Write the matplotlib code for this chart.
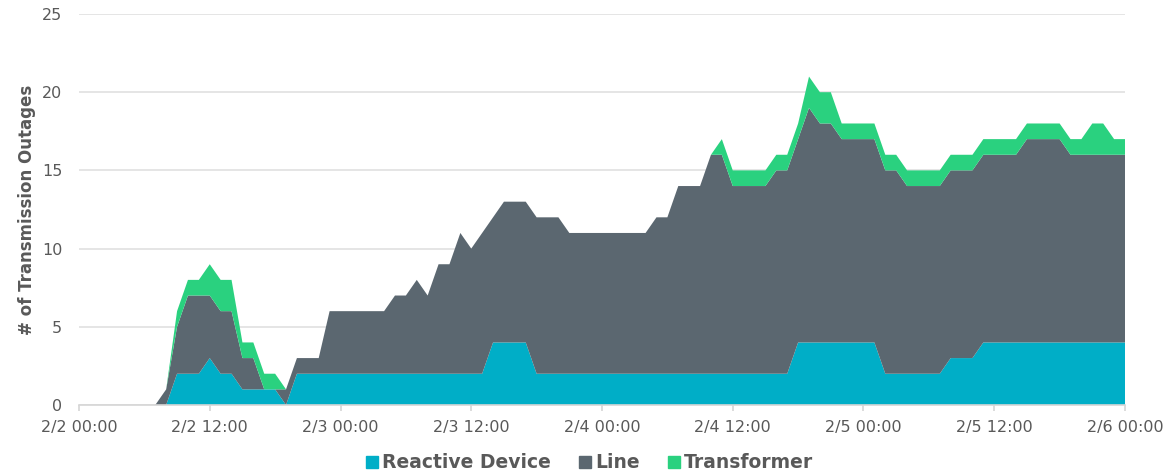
import matplotlib.pyplot as plt
from matplotlib.lines import Line2D

# hourly values, starting 2/2 07:00 (hours counted from 2/2 00:00)
hours = list(range(7, 97))

reactive_device = [
    0, 0, 2, 2, 2, 3, 2, 2, 1, 1, 1, 1, 0,                      # 07-19
    2, 2, 2, 2, 2, 2, 2, 2, 2, 2, 2, 2, 2, 2, 2, 2, 2, 2,       # 20-37
    4, 4, 4, 4,                                                 # 38-41
    2, 2, 2, 2, 2, 2, 2, 2, 2, 2, 2, 2,                         # 42-53
    2, 2, 2, 2, 2, 2, 2, 2, 2, 2, 2, 2,                         # 54-65
    4, 4, 4, 4, 4, 4, 4, 4,                                     # 66-73
    2, 2, 2, 2, 2, 2,                                           # 74-79
    3, 3, 3,                                                    # 80-82
    4, 4, 4, 4, 4, 4, 4, 4, 4, 4, 4, 4, 4, 4,                   # 83-96
]
line = [
    0, 1, 3, 5, 5, 4, 4, 4, 2, 2, 0, 0, 1,                      # 07-19
    1, 1, 1, 4, 4, 4, 4, 4, 4, 5, 5, 6, 5, 7, 7, 9, 8, 9,       # 20-37
    8, 9, 9, 9,                                                 # 38-41
    10, 10, 10, 9, 9, 9, 9, 9, 9, 9, 9, 10,                     # 42-53
    10, 12, 12, 12, 14, 14, 12, 12, 12, 12, 13, 13,             # 54-65
    13, 15, 14, 14, 13, 13, 13, 13,                             # 66-73
    13, 13, 12, 12, 12, 12,                                     # 74-79
    12, 12, 12,                                                 # 80-82
    12, 12, 12, 12, 13, 13, 13, 13, 12, 12, 12, 12, 12, 12,     # 83-96
]
transformer = [
    0, 0, 1, 1, 1, 2, 2, 2, 1, 1, 1, 1, 0,                      # 07-19
    0, 0, 0, 0, 0, 0, 0, 0, 0, 0, 0, 0, 0, 0, 0, 0, 0, 0,       # 20-37
    0, 0, 0, 0,                                                 # 38-41
    0, 0, 0, 0, 0, 0, 0, 0, 0, 0, 0, 0,                         # 42-53
    0, 0, 0, 0, 0, 1, 1, 1, 1, 1, 1, 1,                         # 54-65
    1, 2, 2, 2, 1, 1, 1, 1,                                     # 66-73
    1, 1, 1, 1, 1, 1,                                           # 74-79
    1, 1, 1,                                                    # 80-82
    1, 1, 1, 1, 1, 1, 1, 1, 1, 1, 2, 2, 1, 1,                   # 83-96
]

series_names = ["Reactive Device", "Line", "Transformer"]
colors = ["#00AEC7", "#5B6770", "#2AD17F"]

tick_hours = [0, 12, 24, 36, 48, 60, 72, 84, 96]
tick_labels = ["2/2 00:00", "2/2 12:00", "2/3 00:00", "2/3 12:00", "2/4 00:00",
               "2/4 12:00", "2/5 00:00", "2/5 12:00", "2/6 00:00"]

text_color = "#595959"
plt.rcParams["font.family"] = ["DejaVu Sans"]

fig = plt.figure(figsize=(11.76, 4.74), dpi=100)
ax = fig.add_axes([79 / 1176, 69 / 474, 1046 / 1176, 391 / 474])

ax.stackplot(hours, reactive_device, line, transformer, colors=colors,
             linewidth=0, zorder=2)

ax.set_xlim(0, 96)
ax.set_ylim(0, 25)
ax.set_yticks([0, 5, 10, 15, 20, 25])
ax.set_xticks(tick_hours)
ax.set_xticklabels(tick_labels)

ax.grid(axis="y", color="#e0e0e0", linewidth=1.2, zorder=0)
for side in ["top", "right", "left"]:
    ax.spines[side].set_visible(False)
ax.spines["bottom"].set_color("#d6d6d6")
ax.spines["bottom"].set_linewidth(1.2)
ax.spines["bottom"].set_zorder(3)

ax.tick_params(axis="y", length=0, pad=12, labelsize=11.5, labelcolor=text_color)
ax.tick_params(axis="x", length=4, width=1.2, color="#d6d6d6", pad=7,
               labelsize=11.5, labelcolor=text_color)

ax.set_ylabel("# of Transmission Outages", fontsize=12, fontweight="bold",
              color=text_color, labelpad=4.5)

handles = [Line2D([], [], marker="s", linestyle="none", markersize=8,
                  markerfacecolor=c, markeredgecolor=c) for c in colors]
fig.legend(handles, series_names, loc="center", bbox_to_anchor=(0.5, 11 / 474),
           ncol=3, frameon=False, handletextpad=0.05, columnspacing=1.3,
           prop={"weight": "bold", "size": 13.5}, labelcolor=text_color,
           handlelength=1.0)

fig.savefig("out.png", dpi=100)
